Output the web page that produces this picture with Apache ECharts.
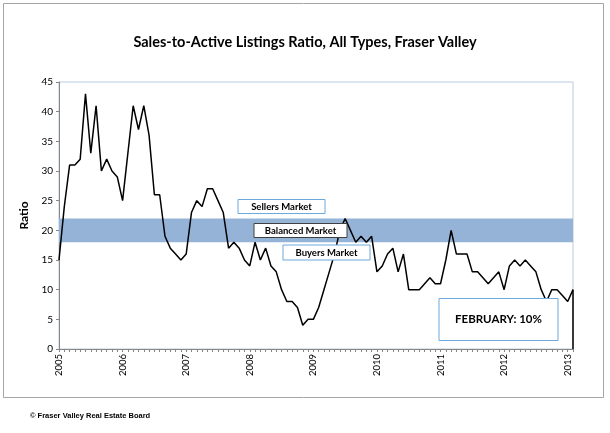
<!DOCTYPE html>
<html>
<head>
<meta charset="utf-8">
<script src="https://cdn.jsdelivr.net/npm/echarts@6/dist/echarts.min.js"></script>
<style>
  html, body { margin: 0; padding: 0; background: #fff; }
  #chart { width: 610px; height: 433px; }
</style>
</head>
<body>
<div id="chart"></div>
<script>
  'use strict';

  var years = ['2005', '2006', '2007', '2008', '2009', '2010', '2011', '2012', '2013'];
  var lastMonth = 2; // Feb 2013

  // monthly sales-to-active listings ratio, Jan 2005 .. Feb 2013
  var ratio = [
    15, 24, 31, 31, 32, 43, 33, 41, 30, 32, 30, 29,
    25, 33, 41, 37, 41, 36, 26, 26, 19, 17, 16, 15,
    16, 23, 25, 24, 27, 27, 25, 23, 17, 18, 17, 15,
    14, 18, 15, 17, 14, 13, 10, 8, 8, 7, 4, 5,
    5, 7, 10, 13, 16, 20, 22, 20, 18, 19, 18, 19,
    13, 14, 16, 17, 13, 16, 10, 10, 10, 11, 12, 11,
    11, 15, 20, 16, 16, 16, 13, 13, 12, 11, 12, 13,
    10, 14, 15, 14, 15, 14, 13, 10, 8, 10, 10, 9,
    8, 10
  ];

  var balancedLow = 18;
  var balancedHigh = 22;
  var yTicks = [0, 5, 10, 15, 20, 25, 30, 35, 40, 45];

  // category per month, label only shown on January
  var months = [];
  years.forEach(function (y, yi) {
    var n = (yi === years.length - 1) ? lastMonth : 12;
    for (var m = 1; m <= n; m++) {
      months.push(y + '-' + (m < 10 ? '0' + m : m));
    }
  });

  var font = 'Lato, "Open Sans", sans-serif';

  function textBox(cx, cy, w, h, text, stroke, size) {
    return {
      type: 'group',
      left: cx - w / 2,
      top: cy - h / 2,
      z: 100,
      children: [
        {
          type: 'rect',
          z: 100,
          shape: { x: 0, y: 0, width: w, height: h },
          style: { fill: '#fff', stroke: stroke, lineWidth: 1 }
        },
        {
          type: 'text',
          z: 101,
          x: w / 2,
          y: h / 2,
          style: {
            text: text, fill: '#000', font: 'bold ' + size + 'px ' + font,
            align: 'center', verticalAlign: 'middle'
          }
        }
      ]
    };
  }

  var chart = echarts.init(document.getElementById('chart'), null, { renderer: 'canvas' });

  chart.setOption({
    animation: false,
    backgroundColor: '#fff',
    title: {
      text: 'Sales-to-Active Listings Ratio, All Types, Fraser Valley',
      left: 'center',
      top: 30,
      textStyle: { fontFamily: font, fontWeight: 'bold', fontSize: 14.5, color: '#000' }
    },
    grid: {
      left: 59, top: 82, width: 514, height: 267,
      show: true, borderColor: '#b8cce4', borderWidth: 1, backgroundColor: 'transparent'
    },
    xAxis: {
      type: 'category',
      data: months,
      boundaryGap: false,
      axisLine: { lineStyle: { color: '#868686', width: 1 } },
      axisTick: { show: true, interval: 0, length: 3, lineStyle: { color: '#868686' } },
      axisLabel: {
        interval: 11,
        rotate: 90,
        margin: 5,
        color: '#000',
        fontFamily: font,
        fontSize: 9.5,
        formatter: function (v) { return v.slice(0, 4); }
      },
      splitLine: { show: false }
    },
    yAxis: {
      type: 'value',
      min: yTicks[0],
      max: yTicks[yTicks.length - 1],
      interval: 5,
      name: 'Ratio',
      nameLocation: 'middle',
      nameGap: 28,
      nameTextStyle: { fontFamily: font, fontWeight: 'bold', fontSize: 12, color: '#000' },
      axisLine: { show: true, lineStyle: { color: '#868686', width: 1 } },
      axisTick: { show: true, length: 3, lineStyle: { color: '#868686' } },
      axisLabel: { color: '#000', fontFamily: font, fontSize: 10, margin: 6 },
      splitLine: { show: false }
    },
    series: [
      {
        type: 'line',
        data: ratio,
        symbol: 'none',
        lineStyle: { color: '#000', width: 1.5 },
        z: 5,
        markArea: {
          silent: true,
          itemStyle: { color: '#95b3d7', opacity: 1 },
          data: [[{ yAxis: balancedLow }, { yAxis: balancedHigh }]]
        },
        markLine: {
          silent: true,
          symbol: 'none',
          label: { show: false },
          lineStyle: { color: '#000', width: 1.5, type: 'solid' },
          data: [[
            { coord: [ratio.length - 1, ratio[ratio.length - 1]] },
            { coord: [ratio.length - 1, 0] }
          ]]
        }
      }
    ],
    graphic: [
      {
        type: 'rect',
        shape: { x: 3.5, y: 3.5, width: 600, height: 394 },
        style: { fill: 'none', stroke: '#a6a6a6', lineWidth: 1 },
        z: -1
      },
      textBox(281, 206, 87, 14, 'Sellers Market', '#6fa8dc', 9.5),
      textBox(300, 230, 93, 14, 'Balanced Market', '#404040', 9.5),
      textBox(326, 252, 87, 15, 'Buyers Market', '#6fa8dc', 9.5),
      textBox(498, 319, 119, 42, 'FEBRUARY: 10%', '#6fa8dc', 11.5),
      {
        type: 'text',
        left: 30,
        top: 412,
        style: {
          text: '\u00a9 Fraser Valley Real Estate Board',
          fill: '#000',
          font: 'bold 7.5px "Liberation Sans", Arial, sans-serif'
        }
      }
    ]
  });
</script>
</body>
</html>
